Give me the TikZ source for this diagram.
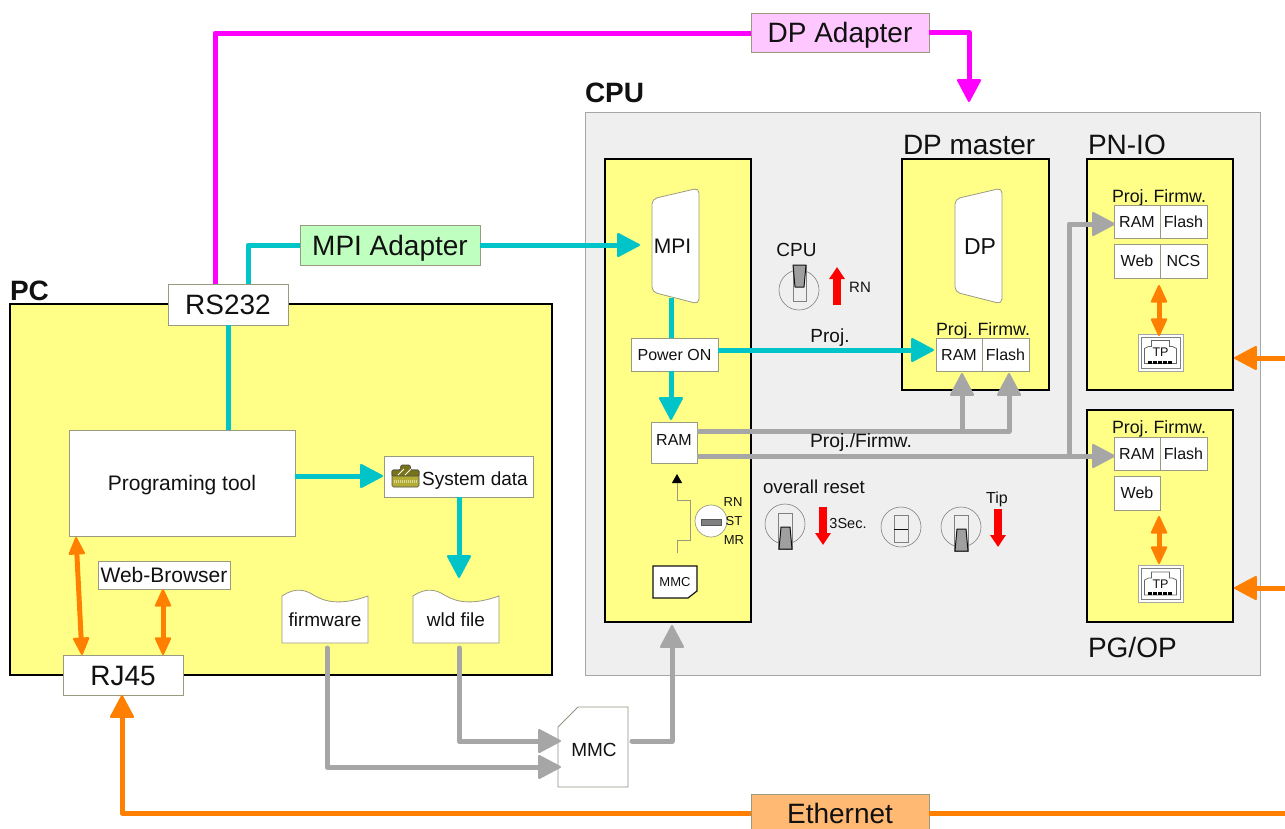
\documentclass[tikz,border=0pt]{standalone}
\usepackage{fontspec}
\setmainfont{Liberation Sans}
\usetikzlibrary{arrows.meta,calc}
\definecolor{cyanl}{HTML}{00C4C8}
\definecolor{grayl}{HTML}{A6A6A6}
\definecolor{orangel}{HTML}{FF8000}
\definecolor{magental}{HTML}{FF00FF}
\definecolor{yel}{HTML}{FFFF88}
\definecolor{panel}{HTML}{EFEFEF}
\definecolor{edge}{HTML}{9A9A80}
\definecolor{ink}{HTML}{111111}
\tikzset{
  txt/.style={font=\fontsize{#1}{#1}\selectfont,inner sep=0pt,outer sep=0pt,text=ink,text height={0.72*#1 pt},text depth=0pt},
  box/.style={draw=edge,line width=0.8pt,fill=white,inner sep=0pt,outer sep=0pt,text=ink,font=\fontsize{#1}{#1}\selectfont,text height={0.72*#1 pt},text depth=0pt},
  yellowbox/.style={draw=black,line width=2.4pt,fill=yel,inner sep=0pt,outer sep=0pt},
  conn/.style={line width=5pt,line join=round,line cap=butt},
  freecap/.style={line cap=round},
  headbig/.style={-{Triangle[length=24pt,width=25pt,round,line width=2pt]}},
  headtwo/.style={{Triangle[length=19pt,width=17pt,round,line width=2pt]}-{Triangle[length=19pt,width=17pt,round,line width=2pt]}},
  redarrow/.style={line width=7.5pt,red,-{Triangle[length=12pt,width=15pt]}},
  swring/.style={circle,draw=gray,line width=0.6pt,fill=panel,inner sep=0pt,minimum size=40pt},
  swslot/.style={draw=gray,line width=0.7pt,fill=panel},
  swlever/.style={draw=ink,line width=1pt,fill=gray!75,line join=round},
}
\newcommand\bx[7][]{\node[#1,minimum width={(#5-#3)*1pt},minimum height={(#6-#4)*1pt}] (#2) at ({(#3+#5)/2},{(#4+#6)/2}) {#7};}
\newcommand\docshape[6]{% name x0 y0 x1 y1 text
  \path[draw=edge,line width=0.8pt,fill=white] (#2,#5) -- (#2,{#3+7})
    .. controls ({#2+9},{#3+1}) and ({#2+18},{#3-1}) .. ({#2+28},{#3+4})
    .. controls ({#2+38},{#3+10}) and ({#2+52},{#3+19}) .. (#4,{#3+7}) -- (#4,#5) -- cycle;
  \node[txt=19] (#1) at ({(#2+#4)/2},{#5-23}) {#6};}
\newcommand\conshape[5]{% name leftx text size textx
  \path[draw=edge,line width=0.8pt,fill=white,rounded corners=5pt] (#2,199) -- ({#2+47},188) -- ({#2+47},304) -- (#2,292) -- cycle;
  \node[txt=#4] (#1) at (#5,246) {#3};}
\newcommand\tpicon[3]{% name cx cy
  \node[draw=gray!70,line width=0.8pt,fill=white,minimum width=45pt,minimum height=37pt,inner sep=0pt] (#1) at (#2,#3) {};
  \begin{scope}[shift={(#2,#3)}]
    \draw[gray,line width=0.8pt] (-19.5,-15.5) rectangle (19.5,15.5);
    \draw[gray!80!black,line width=0.7pt] (-16,11) -- (-16,-4) -- (-12,-6) -- (-9,-6) -- (-9,-12) -- (9,-12) -- (9,-6) -- (12,-6) -- (16,-4) -- (16,11) -- cycle;
    \draw[black,line width=3pt,dash pattern=on 3.5pt off 1.5pt] (-12.5,9.5) -- (12.5,9.5);
    \node[txt=12.5] (#1t) at (0,-0.5) {TP};
  \end{scope}}
\begin{document}
\begin{tikzpicture}[x=1pt,y=-1pt]
\useasboundingbox (0,0) rectangle (1285,828);
\clip (0,0) rectangle (1285,828);
% panels
\bx[draw=gray!70,line width=0.9pt,fill=panel,inner sep=0pt,outer sep=0pt]{cpupanel}{585}{112}{1260}{675}{}
\bx[yellowbox]{pc}{10}{304}{552}{675}{}
\bx[yellowbox]{cpubox}{605}{159}{751}{622}{}
\bx[yellowbox]{dpbox}{902}{159}{1049}{390}{}
\bx[yellowbox]{pnbox}{1087}{159}{1233}{390}{}
\bx[yellowbox]{pgbox}{1087}{410}{1233}{622}{}
% headings
\node[txt=28,font=\fontsize{28}{28}\selectfont\bfseries,anchor=west] (lcpu) at (585,92) {CPU};
\node[txt=28,font=\fontsize{28}{28}\selectfont\bfseries,anchor=west] (lpc) at (10,290) {PC};
\node[txt=28,anchor=west] (ldp) at (903,144) {DP master};
\node[txt=28,anchor=west] (lpn) at (1088,144) {PN-IO};
\node[txt=28,anchor=west] (lpg) at (1088,647) {PG/OP};
% boxes
\bx[box=28,fill=magental!22]{dpad}{751}{13}{929}{52}{DP Adapter}
\bx[box=28,fill=green!25]{mpiad}{300}{225}{480}{265}{MPI Adapter}
\bx[box=28,fill=orange!55]{eth}{751}{794}{929}{832}{Ethernet}
\bx[box=28]{rs}{168}{284}{288}{325}{RS232}
\bx[box=28]{rj}{63}{655}{183}{695}{RJ45}
\bx[box=21]{prog}{69}{430}{295}{536}{Programing tool}
\bx[box=19]{sys}{384}{456}{533}{497}{\hspace*{33pt}\raisebox{-2pt}{System data}}
\bx[box=21]{web}{98}{561}{230}{589}{Web-Browser}
\docshape{fw}{282}{589}{368}{643}{firmware}
\docshape{wld}{413}{589}{499}{643}{wld file}
% toolbox icon
\draw[black!70,line width=0.6pt,fill=olive!55!yellow!70!gray,rounded corners=1.5pt] (392,470) rectangle (419,487);
\draw[black!70,line width=0.6pt,fill=olive!80!black,rounded corners=1pt] (392,476) -- (392,470) -- (400,470) -- (401,465) -- (410,465) -- (411,470) -- (419,470) -- (419,476) -- cycle;
\draw[white,line width=1pt] (398,475) -- (404,469) (405,475) -- (411,469);
\draw[olive!30,line width=3pt,dash pattern=on 1pt off 1pt] (394,481) -- (417,481);
% MMC big
\path[draw=edge!70!gray,line width=0.8pt,fill=white] (558,727) -- (578,707) -- (628,707) -- (628,787) -- (558,787) -- cycle;
\node[txt=19] (mmc) at (594,750) {MMC};
% CPU internals
\conshape{mpi}{652}{MPI}{21}{672.5}
\bx[box=16]{pon}{631}{338}{718}{371}{Power ON}
\bx[box=16]{ram}{651}{422}{697}{463}{\raisebox{3pt}{RAM}}
\path[draw=ink,line width=1.2pt,fill=white] (653,566) -- (697,566) -- (697,591) -- (688,598) -- (653,598) -- cycle;
\node[txt=13] (smmc) at (675,582) {MMC};
\conshape{dp}{955}{DP}{23}{980}
\node[txt=17.8] (dph) at (983,329) {Proj.\ Firmw.};
\bx[box=16]{dpram}{936}{338}{982}{371}{RAM}
\bx[box=16]{dpfl}{982}{338}{1029}{371}{Flash}
\node[txt=17.8] (pnh) at (1159,196) {Proj.\ Firmw.};
\bx[box=16]{pnram}{1114}{205}{1160}{238}{RAM}
\bx[box=16]{pnfl}{1160}{205}{1207}{238}{Flash}
\bx[box=16]{pnweb}{1114}{244}{1160}{278}{Web}
\bx[box=16]{pnncs}{1160}{244}{1207}{278}{NCS}
\tpicon{pntp}{1160.5}{352.5}
\node[txt=17.8] (pgh) at (1159,427) {Proj.\ Firmw.};
\bx[box=16]{pgram}{1114}{437}{1160}{470}{RAM}
\bx[box=16]{pgfl}{1160}{437}{1207}{470}{Flash}
\bx[box=16]{pgweb}{1114}{476}{1160}{510}{Web}
\tpicon{pgtp}{1160.5}{584}
% ports and bends
\coordinate (rsMag) at (215,284);
\coordinate (magTop) at (215,33);
\coordinate (dpIn) at (969,102);
\coordinate (rsCy) at (248,284);
\coordinate (mpiIn) at (640,245);
\coordinate (rsDown) at (228,325);
\coordinate (progUp) at (228,430);
\coordinate (mpiDown) at (671,298);
\coordinate (ponUp) at (671,338);
\coordinate (ponDown) at (671,371);
\coordinate (ramUp) at (671,420);
\coordinate (progOut) at (295,476);
\coordinate (sysIn) at (383,476);
\coordinate (sysDown) at (459,497);
\coordinate (wldIn) at (459,578);
\coordinate (ponOut) at (718,350);
\coordinate (dpramIn) at (934,350);
\coordinate (wldOut) at (459,648);
\coordinate (fwOut) at (327,648);
\coordinate (mmcA) at (561,741);
\coordinate (mmcB) at (561,767);
\coordinate (mmcOut) at (632,741);
\coordinate (cpuBottom) at (672,625);
\coordinate (ramA) at (697,431);
\coordinate (dpU1) at (962,373);
\coordinate (dpU2) at (1009,373);
\coordinate (ramB) at (697,456);
\coordinate (pgIn) at (1115,456);
\coordinate (pnIn) at (1115,224);
\coordinate (riser) at (1069,456);
\coordinate (progL) at (76,537);
\coordinate (rjL) at (82,655);
\coordinate (webD) at (163,589);
\coordinate (rjR) at (163,655);
\coordinate (ethL) at (122,813);
\coordinate (rjD) at (122,695);
\coordinate (edgeA) at (1285,813);
\coordinate (edgeB) at (1285,358);
\coordinate (pnR) at (1234,358);
\coordinate (edgeC) at (1285,588);
\coordinate (pgR) at (1234,588);
\coordinate (pnA) at (1159,285);
\coordinate (pnB) at (1159,336);
\coordinate (pgA) at (1159,516);
\coordinate (pgB) at (1159,564);
% connectors: magenta
\draw[conn,magental] (rsMag) -- (magTop) -- (magTop -| dpad.west);
\draw[conn,magental,headbig] (dpad.east) -| (dpIn);
% cyan
\draw[conn,cyanl] (rsCy) |- (mpiad.west);
\draw[conn,cyanl,headbig] (mpiad.east) -- (mpiIn);
\draw[conn,cyanl] (rsDown) -- (progUp);
\draw[conn,cyanl] (mpiDown) -- (ponUp);
\draw[conn,cyanl,headbig] (ponDown) -- (ramUp);
\draw[conn,cyanl,headbig] (progOut) -- (sysIn);
\draw[conn,cyanl,headbig] (sysDown) -- (wldIn);
\draw[conn,cyanl,headbig] (ponOut) -- (dpramIn);
% gray
\draw[conn,freecap,grayl,headbig] (wldOut) |- (mmcA);
\draw[conn,freecap,grayl,headbig] (fwOut) |- (mmcB);
\draw[conn,freecap,grayl,headbig] (mmcOut) -| (cpuBottom);
\draw[conn,grayl,headbig] (ramA) -| (dpU2);
\draw[conn,grayl,headbig] (dpU1 |- ramA) -- (dpU1);
\draw[conn,grayl,headbig] (ramB) -- (pgIn);
\draw[conn,grayl,headbig] (riser) |- (pnIn);
% orange
\draw[conn,orangel,headtwo] (progL) -- (rjL);
\draw[conn,orangel,headtwo] (webD) -- (rjR);
\draw[conn,orangel,headbig] (eth.west |- ethL) -- (ethL) -- (rjD);
\draw[conn,orangel] (eth.east |- ethL) -- (edgeA);
\draw[conn,orangel,headbig] (edgeB) -- (pnR);
\draw[conn,orangel,headbig] (edgeC) -- (pgR);
\draw[conn,orangel,headtwo] (pnA) -- (pnB);
\draw[conn,orangel,headtwo] (pgA) -- (pgB);
% labels
\node[txt=19] (lproj) at (830,336) {Proj.};
\node[txt=19.3] (lpf) at (861,441) {Proj./Firmw.};
% CPU switch
\node[swring] (sw1) at (799,290) {};
\draw[swslot] (793,265) rectangle (806,301);
\draw[swlever] (793,265) -- (806,265) -- (804,287) -- (795,287) -- cycle;
\node[txt=19] (lcpusw) at (796.5,250) {CPU};
\coordinate (r1a) at (837,305); \coordinate (r1b) at (837,267);
\draw[redarrow] (r1a) -- (r1b);
\node[txt=15] (lrn) at (860,287) {RN};
% overall reset
\node[txt=18.7] (lreset) at (814,487) {overall reset};
\node[swring] (sw2) at (785,524) {};
\draw[swslot] (778,513) rectangle (792,549);
\draw[swlever] (781,527) -- (790,527) -- (792,549) -- (779,549) -- cycle;
\coordinate (r2a) at (823,507); \coordinate (r2b) at (823,545);
\draw[redarrow] (r2a) -- (r2b);
\node[txt=14.5] (l3s) at (848,523) {3Sec.};
\node[swring] (sw3) at (901,527) {};
\draw[swslot] (894,515) rectangle (908,542);
\draw[ink,line width=1pt] (894,529) -- (908,529);
\node[swring] (sw4) at (961,527) {};
\draw[swslot] (954,515) rectangle (968,551);
\draw[swlever] (957,529) -- (966,529) -- (968,551) -- (955,551) -- cycle;
\node[txt=16] (ltip) at (997,498) {Tip};
\coordinate (r3a) at (998,509); \coordinate (r3b) at (998,547);
\draw[redarrow] (r3a) -- (r3b);
% mode selector
\coordinate (ctlA) at (677,553);
\coordinate (ctlB) at (677,474);
\draw[draw=edge,line width=0.9pt,-{Triangle[length=9pt,width=10pt,black]}] (ctlA) -- (677,540) -- (690,540) -- (690,500) -- (677,500) -- (ctlB);
\node[circle,draw=edge,line width=0.7pt,fill=white,minimum size=32pt,inner sep=0pt] (sel) at (711,521) {};
\draw[draw=ink!70,line width=0.7pt,fill=gray] (701,519) rectangle (721,525);
\node[txt=13] (lsr) at (733,502) {RN};
\node[txt=13] (lss) at (734,521) {ST};
\node[txt=13] (lsm) at (734,540) {MR};
\end{tikzpicture}
\end{document}
